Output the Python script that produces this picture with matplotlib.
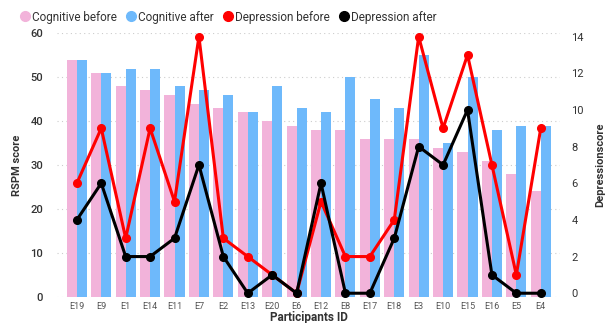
import numpy as np
import matplotlib.pyplot as plt
from matplotlib.lines import Line2D

participants = ["E19", "E9", "E1", "E14", "E11", "E7", "E2", "E13", "E20", "E6",
                "E12", "E8", "E17", "E18", "E3", "E10", "E15", "E16", "E5", "E4"]
cog_before = [54, 51, 48, 47, 46, 44, 43, 42, 40, 39, 38, 38, 36, 36, 36, 34, 33, 31, 28, 24]
cog_after = [54, 51, 52, 52, 48, 47, 46, 42, 48, 43, 42, 50, 45, 43, 55, 35, 50, 38, 39, 39]
dep_before = [6, 9, 3, 9, 5, 14, 3, 2, 1, 0, 5, 2, 2, 4, 14, 9, 13, 7, 1, 9]
dep_after = [4, 6, 2, 2, 3, 7, 2, 0, 1, 0, 6, 0, 0, 3, 8, 7, 10, 1, 0, 0]

pink = "#F2B3DA"
blue = "#6EB9FB"
txt = "#333333"
plt.rcParams['font.family'] = ['Roboto', 'DejaVu Sans']

fig = plt.figure(figsize=(6.11, 3.23), dpi=100)
ax = fig.add_axes([0.093, 0.0814, 0.824, 0.815])
x = np.arange(len(participants))
w = 0.41
ax.bar(x - w/2, cog_before, w, color=pink, label="Cognitive before", zorder=2)
ax.bar(x + w/2, cog_after, w, color=blue, label="Cognitive after", zorder=2)
ax.set_ylim(0, 60)
ax.set_xlim(-0.82, 19.8)
ax.set_yticks(range(0, 61, 10))
ax.grid(axis='y', linestyle=(0, (1, 3)), color='#cccccc', linewidth=0.8, zorder=0)
ax.set_xticks(x)
ax.set_xticklabels(participants, fontsize=6.5, color='#555555')
ax.tick_params(axis='y', labelsize=8, colors=txt, length=0, pad=10)
ax.tick_params(axis='x', length=0, pad=4)
for lbl in ax.get_yticklabels():
    lbl.set_fontweight('medium')
for s in ax.spines.values():
    s.set_visible(False)
ax.set_ylabel("RSPM score", fontsize=8, fontweight='bold', color=txt, labelpad=6)
ax.set_xlabel("Participants ID", fontsize=8.5, fontweight='bold', color=txt, labelpad=0)

ax2 = ax.twinx()
ax2.plot(x, dep_before, color='#FF0000', lw=2.2, marker='o', ms=5.5, label="Depression before", zorder=3)
ax2.plot(x, dep_after, color='black', lw=2.2, marker='o', ms=5.5, label="Depression after", zorder=3)
ax2.set_ylim(-0.19, 14.17)
ax2.set_yticks(range(0, 15, 2))
ax2.tick_params(axis='y', labelsize=8, colors=txt, length=0, pad=8)
for s in ax2.spines.values():
    s.set_visible(False)
ax2.set_ylabel("Depressionscore", fontsize=8, fontweight='bold', color=txt, labelpad=8)

labels = ["Cognitive before", "Cognitive after", "Depression before", "Depression after"]
handles = [Line2D([], [], marker='o', ls='', color=c, ms=7) for c in [pink, blue, '#FF0000', 'black']]
fig.legend(handles, labels, loc='upper left', bbox_to_anchor=(0.012, 1.0), ncol=4, frameon=False,
           fontsize=8.5, handletextpad=0.0, columnspacing=0.6, handlelength=1.2,
           labelcolor=txt)

fig.savefig("out.png", dpi=100)
